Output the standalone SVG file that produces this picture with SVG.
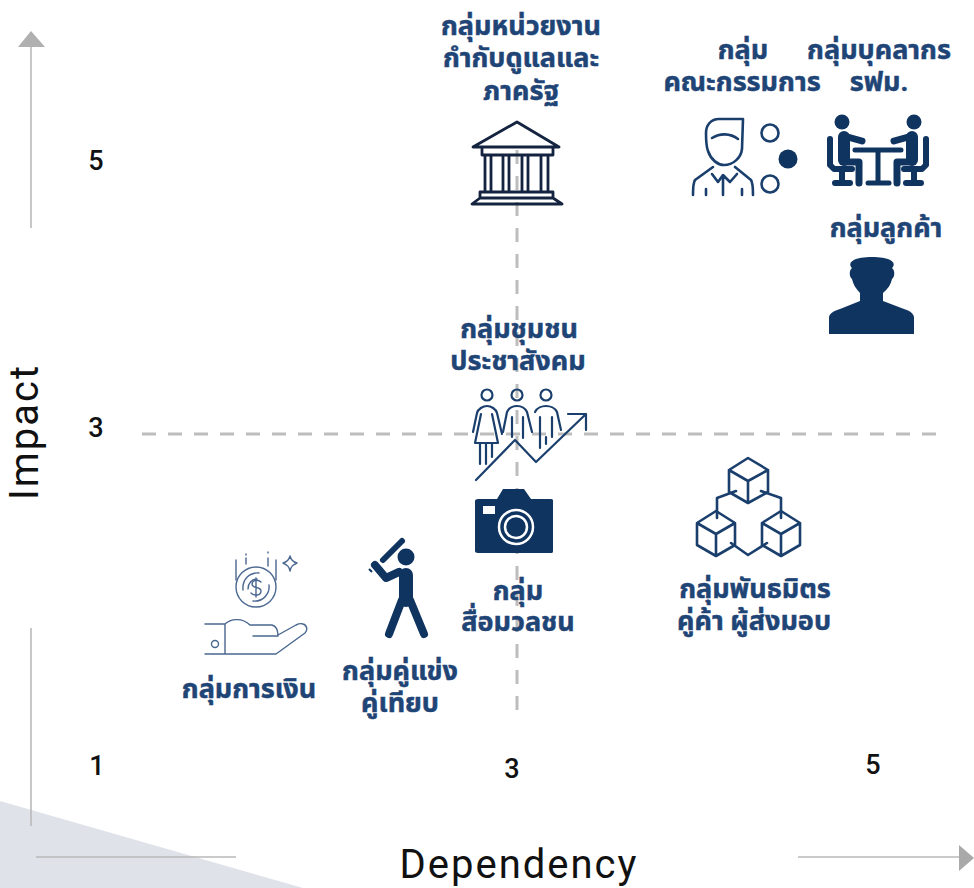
<svg xmlns="http://www.w3.org/2000/svg" width="974" height="888" viewBox="0 0 974 888">
<style>
.l{font-family:Roboto,"Noto Sans Thai","Noto Sans","Liberation Sans",sans-serif;font-weight:700;font-size:27px;fill:#1f4576;stroke:#1f4576;stroke-width:.5;text-anchor:middle}
.n{font-family:Roboto,"Liberation Sans",sans-serif;font-weight:500;font-size:27px;fill:#111;text-anchor:middle}
.a{font-family:Roboto,"Liberation Sans",sans-serif;font-size:40px;letter-spacing:2px;fill:#111;text-anchor:middle}
.o{fill:none;stroke:#1a3f6d;stroke-width:2.6;stroke-linecap:round;stroke-linejoin:round}
.t{fill:none;stroke:#4a6790;stroke-width:1.4;stroke-linecap:round;stroke-linejoin:round}
.s{fill:none;stroke:#0f3460;stroke-linecap:round;stroke-linejoin:round}
.f{fill:#0f3460}
.b{fill:none;stroke:#14233f;stroke-width:2.8;stroke-linejoin:round}
.ax{stroke:#b9b9b9;stroke-width:1.6;fill:none}
.d{stroke:#bdbdbd;stroke-width:3;stroke-dasharray:14 12;fill:none}
</style>
<rect width="974" height="888" fill="#fff"/>
<polygon points="0,801 303,888 0,888" fill="#dfe2e9"/>
<g id="connectors">
<path class="d" d="M142 434H940"/>
<path class="d" d="M517 150V720"/>
<path class="ax" d="M31 46V228M31 628V826M36 857H236M798 857H960"/>
<polygon points="18,47 31,31 45,47" fill="#b0b0b0"/>
<polygon points="959,845 974,858 959,871" fill="#a9a9a9"/>
</g>
<g id="axes-text">
<text class="n" x="96" y="170">5</text>
<text class="n" x="96" y="437">3</text>
<text class="n" x="97" y="775">1</text>
<text class="n" x="512" y="778">3</text>
<text class="n" x="873" y="774">5</text>
<text class="a" transform="translate(38 432) rotate(-90)">Impact</text>
<text class="a" x="519" y="878">Dependency</text>
</g>
<g id="node-regulator">
<text class="l" x="521" y="35">กลุ่มหน่วยงาน</text>
<text class="l" x="521" y="67">กำกับดูแลและ</text>
<text class="l" x="521" y="100">ภาครัฐ</text>
<path class="b" d="M473 147L517 122L559 147ZM482 148V155H553V148M485 155V192M491 155V192M503 155V192M509 155V192M522 155V192M528 155V192M541 155V192M548 155V192M480 192H553V198H480ZM472 204L480 198H553L562 204Z"/>
</g>
<g id="node-board">
<text class="l" x="743" y="59">กลุ่ม</text>
<text class="l" x="742" y="91">คณะกรรมการ</text>
<path class="o" d="M743 119H719C711 119 706 125 706 133C706 140 706 146 708 151C711 160 718 165 724 165C733 165 741 158 742 149ZM712 138C720 133 730 133 738 139M713 167L695 180C693 183 693 187 693 195M735 167L751 180C753 183 753 187 753 195M712 174L718 182L723 175L730 182L737 174M723 176V195M706 189V195M742 189V195"/>
<circle class="o" cx="770" cy="133" r="8.5"/>
<circle class="f" cx="788" cy="159" r="9.5"/>
<circle class="o" cx="770" cy="184" r="8.5"/>
</g>
<g id="node-staff">
<text class="l" x="879" y="59">กลุ่มบุคลากร</text>
<text class="l" x="879" y="91">รฟม.</text>
<circle class="f" cx="842" cy="122" r="7.5"/>
<circle class="f" cx="914" cy="122" r="7.5"/>
<g class="s">
<path stroke-width="12" d="M844 137V160"/>
<path stroke-width="7" d="M844 136L862 141M844 162H859V183"/>
<path stroke-width="6" d="M830 139V165L834 169H852M842 170V183M835 183H850"/>
<path stroke-width="12" d="M912 137V160"/>
<path stroke-width="7" d="M912 136L894 141M912 162H897V183"/>
<path stroke-width="6" d="M926 139V165L922 169H904M914 170V183M921 183H906"/>
<path stroke-width="5" d="M855 150H901M878 152V182"/>
<path stroke-width="5" d="M868 183H889"/>
</g>
</g>
<g id="node-customer">
<text class="l" x="886" y="237">กลุ่มลูกค้า</text>
<path class="f" d="M829 334V317C830 313 834 311 840 309L860 301V293C856 289 853 284 852 279C849 277 849 270 852 268C849 265 850 262 854 260C860 256 884 256 890 260C894 262 895 265 892 268C895 270 895 277 892 279C891 284 888 289 883 293V301L904 309C910 311 913 313 914 317V334Z"/>
</g>
<g id="node-community">
<text class="l" x="519" y="338">กลุ่มชุมชน</text>
<text class="l" x="518" y="370">ประชาสังคม</text>
<g class="o" style="stroke-width:2.2">
<circle cx="487" cy="395" r="5.5"/><circle cx="517" cy="395" r="5.5"/><circle cx="546" cy="395" r="5.5"/>
<path d="M473 432L477 413C478 409 483 406 487 406C491 406 496 409 497 413L502 434M481 414L475 443H498L492 414M480 444V464M486 444V464M492 444V457"/>
<path d="M503 432L507 412C509 408 513 406 517 406C521 406 525 408 527 412L532 432M512 417V437M523 417V438"/>
<path d="M535 412C537 408 542 406 546 406C550 406 555 408 557 412L561 430M540 417V448M552 417V437M546 437V444"/>
<path d="M476 480L515 440L536 462L586 414M568 414H586V430"/>
</g>
</g>
<g id="node-media">
<path class="f" d="M478 499H497L503 489H524L531 499H551C553 499 553 500 553 501V551C553 553 552 553 551 553H478C476 553 475 552 475 551V501C475 500 476 499 478 499Z"/>
<rect x="483" y="506" width="12" height="8" fill="#fff"/>
<circle cx="516" cy="527" r="17" fill="none" stroke="#fff" stroke-width="2.5"/>
<circle cx="516" cy="527" r="11" fill="none" stroke="#fff" stroke-width="2.5"/>
<text class="l" x="518" y="600">กลุ่ม</text>
<text class="l" x="518" y="631">สื่อมวลชน</text>
</g>
<g id="node-partner">
<g class="o">
<path d="M748 458L768 470V492L748 503L729 492V470ZM729 470L748 481L768 470M748 481V503"/>
<path d="M716 511L735 523V545L716 556L697 545V523ZM697 523L716 534L735 523M716 534V556"/>
<path d="M781 511L800 523V545L781 556L762 545V523ZM762 523L781 534L800 523M781 534V556"/>
<path d="M736 491L717 498V518M761 491L781 498V518M731 543L748 555L767 543"/>
</g>
<text class="l" x="755" y="598">กลุ่มพันธมิตร</text>
<text class="l" x="754" y="630">คู่ค้า ผู้ส่งมอบ</text>
</g>
<g id="node-finance">
<g class="t">
<circle cx="256" cy="587" r="20"/>
<path d="M243 590C242 579 250 572 259 573M269 585C270 595 262 602 253 601M248 589C248 583 252 579 257 579"/>
<path d="M261 582C258 579 252 580 252 584C252 589 261 586 261 591C261 596 254 596 251 593M256 578V597"/>
<path d="M236 560V580M246 558V564M268 558V566M276 560V580M246 554V555M268 552V553"/>
<path d="M290 556C291 560 293 562 297 563C293 565 291 566 290 571C289 566 287 565 283 563C287 562 289 560 290 556Z"/>
<path d="M205 624H225V654H205M225 654H276L305 633C308 630 307 625 303 624C300 623 298 624 296 625L278 635M225 624C230 619 242 617 250 625H272C276 626 278 630 278 636H253"/>
<circle cx="215" cy="644" r="3.5"/>
</g>
<text class="l" x="249" y="698">กลุ่มการเงิน</text>
</g>
<g id="node-competitor">
<circle class="f" cx="406" cy="557" r="8.5"/>
<path d="M383 560L402 541" stroke="#0f3460" stroke-width="6" stroke-linecap="round"/>
<path d="M369 569L372 572" stroke="#0f3460" stroke-width="2"/>
<g class="s">
<path stroke-width="8" d="M375 565L386 578L399 572"/>
<path stroke-width="14" d="M406 575V600"/>
<path stroke-width="8" d="M402 600L389 634M410 600L424 634"/>
</g>
<text class="l" x="400" y="680">กลุ่มคู่แข่ง</text>
<text class="l" x="400" y="712">คู่เทียบ</text>
</g>
</svg>
